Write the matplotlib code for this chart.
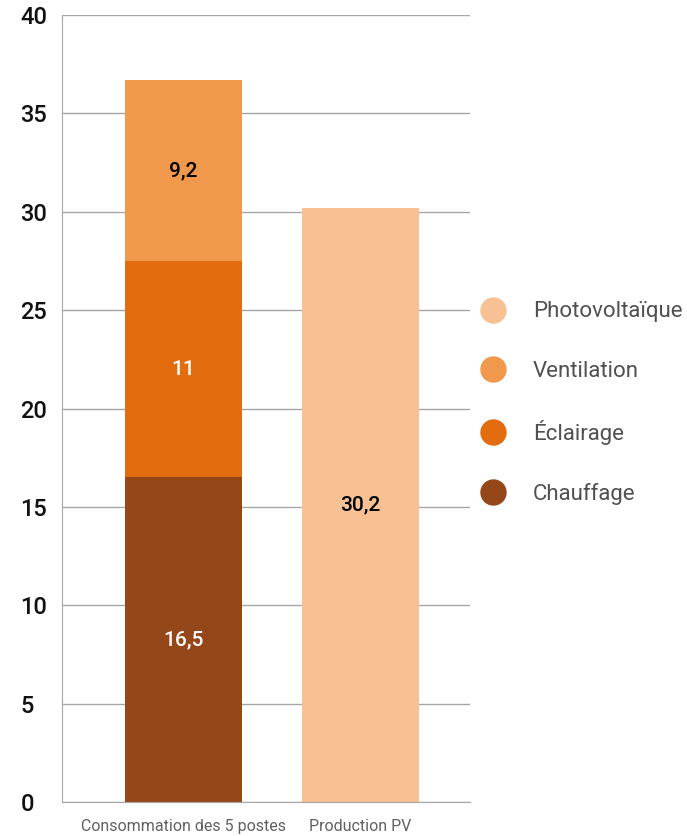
import matplotlib
matplotlib.use("Agg")
import matplotlib.pyplot as plt
from matplotlib.lines import Line2D
import numpy as np

plt.rcParams['font.family'] = ['Roboto', 'DejaVu Sans']

categories = ["Consommation des 5 postes", "Production PV"]
series_names = ["Chauffage", "Éclairage", "Ventilation", "Photovoltaïque"]
chauffage = [16.5, 0]
eclairage = [11, 0]
ventilation = [9.2, 0]
photovoltaique = [0, 30.2]
value_labels = ["16,5", "11", "9,2", "30,2"]
yticks = [0, 5, 10, 15, 20, 25, 30, 35, 40]
legend_order = ["Photovoltaïque", "Ventilation", "Éclairage", "Chauffage"]

colors = {"Chauffage": "#954719", "Éclairage": "#E36C0E",
          "Ventilation": "#F0984B", "Photovoltaïque": "#F7C194"}
label_colors = {"Chauffage": "white", "Éclairage": "white",
                "Ventilation": "black", "Photovoltaïque": "black"}

fig = plt.figure(figsize=(6.87, 8.36), dpi=100)
ax = fig.add_axes([62/687, 34/836, 408/687, 787/836])

x = np.arange(len(categories))
width = 0.661
bottom = np.zeros(len(categories))
data = [chauffage, eclairage, ventilation, photovoltaique]
li = 0
for name, vals in zip(series_names, data):
    vals = np.array(vals, dtype=float)
    ax.bar(x, vals, width, bottom=bottom, color=colors[name], zorder=2)
    for i, v in enumerate(vals):
        if v > 0:
            ax.text(x[i], bottom[i] + v / 2, value_labels[li], ha='center', va='center',
                    fontsize=15, fontweight='medium', color=label_colors[name], zorder=3)
            li += 1
    bottom += vals

ax.set_xlim(-0.686, 1.619)
ax.set_ylim(0, 40)
ax.set_yticks(yticks)
ax.set_yticklabels([str(t) for t in yticks], fontsize=17, fontweight='medium', color='#111111')
for lbl in ax.get_yticklabels():
    lbl.set_horizontalalignment('left')
ax.set_xticks(x)
ax.set_xticklabels(categories, fontsize=11.5, fontweight='normal', color='#606060')
ax.tick_params(axis='both', length=0)
ax.tick_params(axis='y', pad=30)
ax.tick_params(axis='x', pad=12)
ax.grid(axis='y', color='#a6a6a6', linewidth=1, zorder=0)
for s in ['top', 'right']:
    ax.spines[s].set_visible(False)
ax.spines['left'].set_color('#a6a6a6')
ax.spines['bottom'].set_color('#a6a6a6')

handles = [Line2D([], [], marker='o', linestyle='none', markersize=18,
                  markerfacecolor=colors[n], markeredgecolor=colors[n])
           for n in legend_order]
leg = fig.legend(handles, legend_order,
                 loc='upper left', bbox_to_anchor=(459.7/687, 1 - 281.3/836),
                 frameon=False, prop={'size': 16, 'weight': 'normal'},
                 labelspacing=1.72, handlelength=1.2,
                 handletextpad=1.2, labelcolor='#505050')

fig.savefig("out.png", dpi=100)
